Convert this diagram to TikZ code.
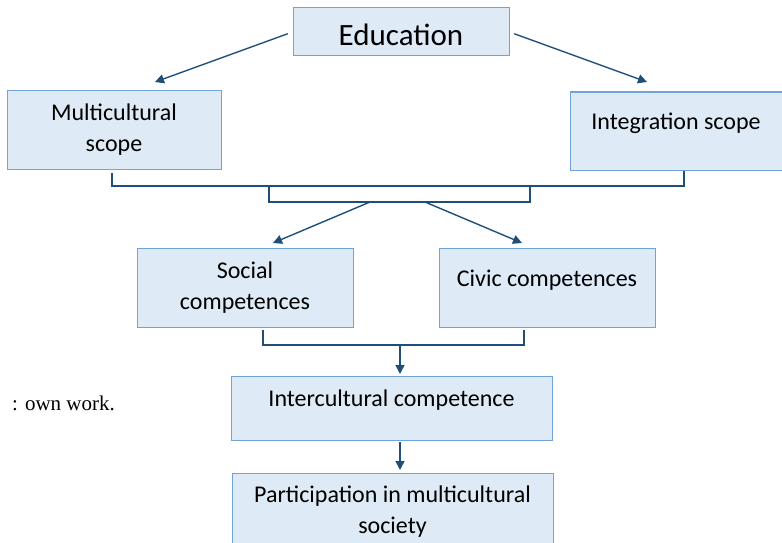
\documentclass[tikz,border=0pt]{standalone}
\usepackage{fontspec}
\setmainfont{Carlito}
\newfontfamily\serifnote{Liberation Serif}
\usetikzlibrary{arrows.meta}
\definecolor{boxfill}{HTML}{DEEAF6}
\definecolor{boxline}{HTML}{6FA3DA}
\definecolor{conn}{HTML}{1F4E79}
\tikzset{
  box/.style={draw=boxline, fill=boxfill, line width=1pt, inner sep=0pt},
  lbl/.style={font=\fontsize{24}{31}\selectfont, align=center, inner sep=0pt},
  line/.style={draw=conn, line width=1.6pt},
  arr/.style={draw=conn, line width=1.4pt, -{Triangle[length=9pt,width=9pt]}}
}
\begin{document}
\begin{tikzpicture}[x=1pt,y=-1pt]
\useasboundingbox (0,0) rectangle (782,543);
\begin{scope}
\clip (0,0) rectangle (782,543);
% boxes
\node[box, minimum width=216, minimum height=48] (edu) at (401,32) {};
\node[box, minimum width=214, minimum height=78] (multi) at (114,130) {};
\node[box, minimum width=212, minimum height=78] (integ) at (676,131) {};
\node[box, minimum width=216, minimum height=79] (social) at (245,287.5) {};
\node[box, minimum width=216, minimum height=79] (civic) at (547,287.5) {};
\node[box, minimum width=321, minimum height=64] (inter) at (391.5,408) {};
\node[box, minimum width=321, minimum height=90] (part) at (392.5,518) {};
\end{scope}
% labels
\node[lbl, font=\fontsize{31}{36}\selectfont] (edut) at (401,35) {Education};
\node[lbl] (multit) at (114,130) {Multicultural\\scope};
\node[lbl] (integt) at (676,123) {Integration scope};
\node[lbl] (socialt) at (245,288) {Social\\competences};
\node[lbl] (civict) at (547,280) {Civic competences};
\node[lbl] (intert) at (391.5,400) {Intercultural competence};
\node[lbl] (partt) at (392.5,512) {Participation in multicultural\\society};
\node[font=\serifnote\fontsize{21}{24}\selectfont, anchor=west, inner sep=0pt] (note) at (12,403) {: own work.};
% arrows from Education
\coordinate (tipm) at (155,82);
\coordinate (tipi) at (647,82);
\draw[arr, shorten <=5pt] (edu.west) -- (tipm);
\draw[arr, shorten <=5pt] (edu.east) -- (tipi);
% upper bracket
\coordinate (bl) at (112,173);
\coordinate (br) at (684,171);
\coordinate (j1) at (269,186);
\coordinate (j2) at (530,186);
\coordinate (b1) at (370,202);
\coordinate (b2) at (425,202);
\draw[line] (bl) -- (112,186) -- (684,186) -- (br);
\draw[line] (j1) -- (269,202) -- (530,202) -- (j2);
\coordinate (tips) at (273,243);
\coordinate (tipc) at (522,243);
\draw[arr] (b1) -- (tips);
\draw[arr] (b2) -- (tipc);
% lower bracket
\coordinate (sl) at (263,330);
\coordinate (sr) at (524,330);
\coordinate (mid) at (400,345);
\draw[line] (sl) -- (263,345) -- (524,345) -- (sr);
\draw[arr] (mid) -- (400,374);
\coordinate (ib) at (400,442);
\draw[arr] (ib) -- (400,470);
\end{tikzpicture}
\end{document}
